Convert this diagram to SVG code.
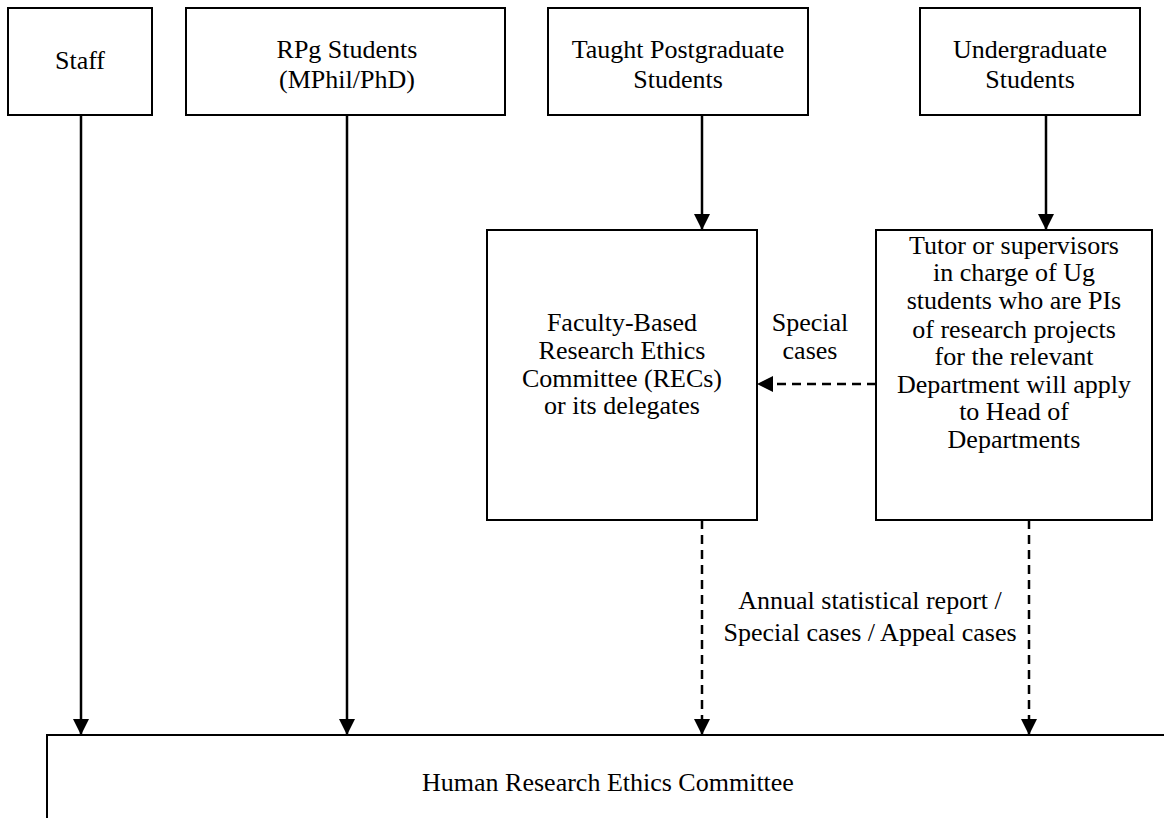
<svg xmlns="http://www.w3.org/2000/svg" width="1164" height="818" viewBox="0 0 1164 818">
<defs>
<marker id="ah" markerUnits="userSpaceOnUse" markerWidth="16" markerHeight="16" viewBox="0 0 14 14" refX="14" refY="7" orient="auto">
<path d="M0,0 L14,7 L0,14 z" fill="#000"/>
</marker>
<style>
.box{fill:#fff;stroke:#000;stroke-width:2}
.t{font-family:"Liberation Serif","Times New Roman",serif;font-size:26px;fill:#000;text-anchor:middle}
.solid{stroke:#000;stroke-width:2.5;fill:none}
.dash{stroke:#000;stroke-width:2.5;fill:none;stroke-dasharray:9 6}
</style>
</defs>
<rect width="1164" height="818" fill="#fff"/>
<g id="connectors">
<line class="solid" x1="81" y1="115" x2="81" y2="735" marker-end="url(#ah)"/>
<line class="solid" x1="347" y1="115" x2="347" y2="735" marker-end="url(#ah)"/>
<line class="solid" x1="702" y1="115" x2="702" y2="230" marker-end="url(#ah)"/>
<line class="solid" x1="1046" y1="115" x2="1046" y2="230" marker-end="url(#ah)"/>
<line class="dash" x1="876" y1="384" x2="757" y2="384" marker-end="url(#ah)"/>
<line class="dash" x1="702" y1="520" x2="702" y2="735" marker-end="url(#ah)"/>
<line class="dash" x1="1029" y1="520" x2="1029" y2="735" marker-end="url(#ah)"/>
<text class="t" x="810" y="331">Special</text>
<text class="t" x="810" y="359">cases</text>
<text class="t" x="870" y="609">Annual statistical report /</text>
<text class="t" x="870" y="641">Special cases / Appeal cases</text>
</g>
<g id="staff">
<rect class="box" x="8" y="8" width="144" height="107"/>
<text class="t" x="80" y="69">Staff</text>
</g>
<g id="rpg">
<rect class="box" x="186" y="8" width="319" height="107"/>
<text class="t" x="347" y="58">RPg Students</text>
<text class="t" x="347" y="88">(MPhil/PhD)</text>
</g>
<g id="tpg">
<rect class="box" x="548" y="8" width="260" height="107"/>
<text class="t" x="678" y="58">Taught Postgraduate</text>
<text class="t" x="678" y="88">Students</text>
</g>
<g id="ug">
<rect class="box" x="920" y="8" width="220" height="107"/>
<text class="t" x="1030" y="58">Undergraduate</text>
<text class="t" x="1030" y="88">Students</text>
</g>
<g id="frec">
<rect class="box" x="487" y="230" width="270" height="290"/>
<text class="t" x="622" y="331">Faculty-Based</text>
<text class="t" x="622" y="359">Research Ethics</text>
<text class="t" x="622" y="387">Committee (RECs)</text>
<text class="t" x="622" y="414">or its delegates</text>
</g>
<g id="tutor">
<rect class="box" x="876" y="230" width="276" height="290"/>
<text class="t" x="1014" y="254">Tutor or supervisors</text>
<text class="t" x="1014" y="281">in charge of Ug</text>
<text class="t" x="1014" y="309">students who are PIs</text>
<text class="t" x="1014" y="338">of research projects</text>
<text class="t" x="1014" y="365">for the relevant</text>
<text class="t" x="1014" y="393">Department will apply</text>
<text class="t" x="1014" y="420">to Head of</text>
<text class="t" x="1014" y="448">Departments</text>
</g>
<g id="hrec">
<path d="M47,818 L47,735 L1164,735" fill="none" stroke="#000" stroke-width="2"/>
<text class="t" x="608" y="791">Human Research Ethics Committee</text>
</g>
</svg>
